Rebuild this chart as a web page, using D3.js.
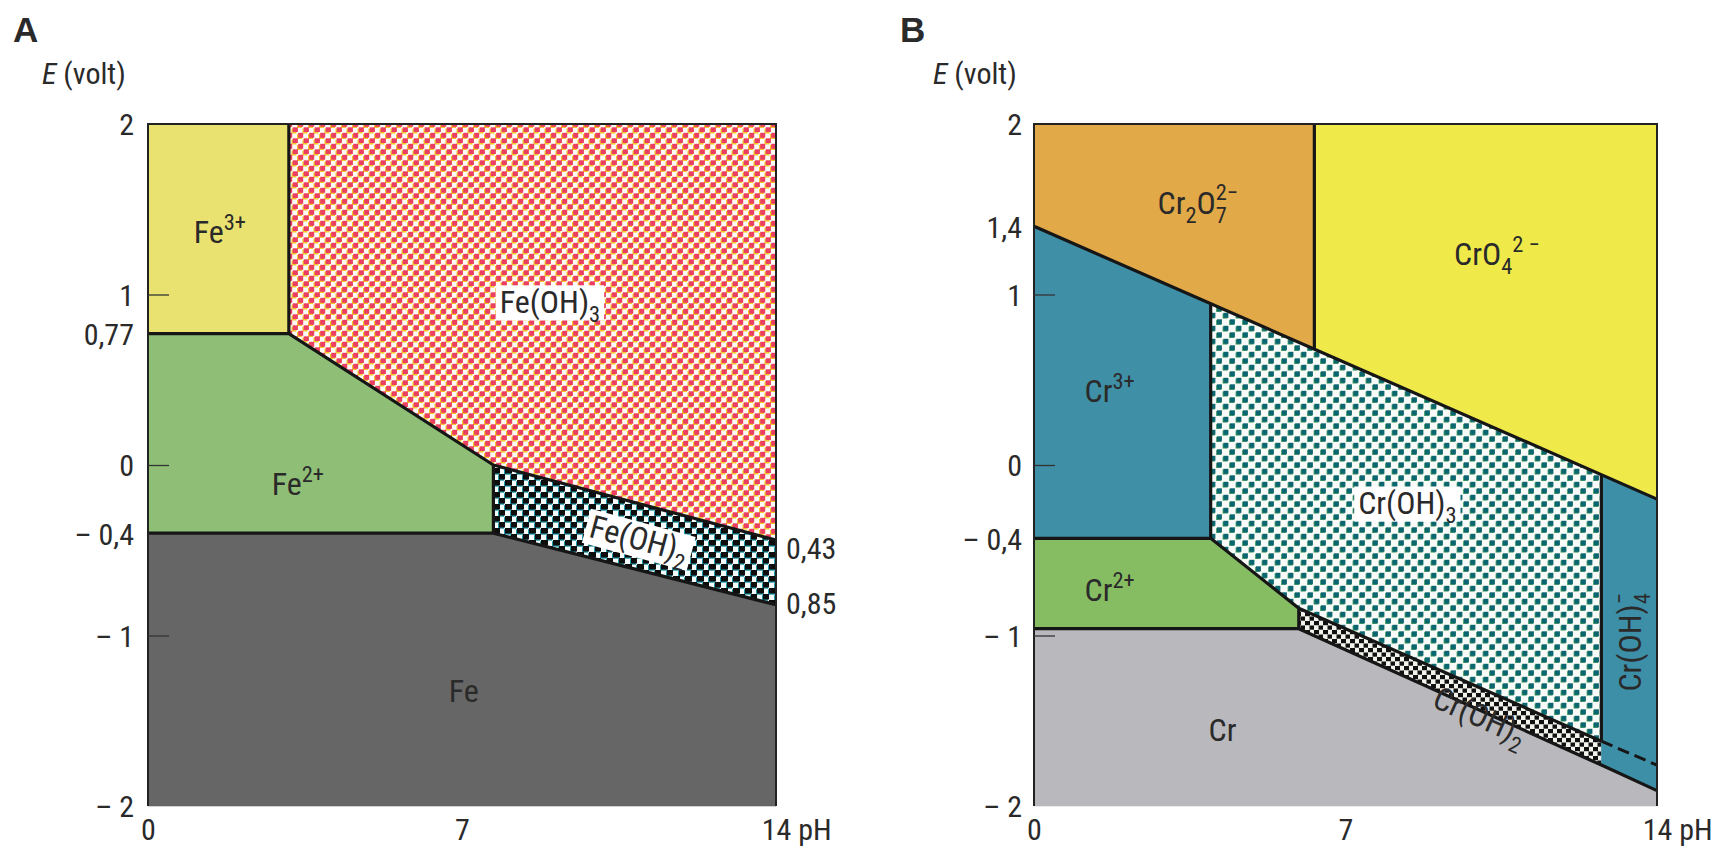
<!DOCTYPE html>
<html><head><meta charset="utf-8">
<script src="https://cdn.jsdelivr.net/npm/d3@7"></script>
<style>
html,body{margin:0;padding:0;background:#fff;}
svg text{font-family:"Liberation Sans Narrow","Arial Narrow","Roboto Condensed","DejaVu Sans Condensed",sans-serif;fill:#2a2a2a;}
</style></head><body>
<svg id="c" width="1726" height="857"></svg>
<script>
// ---------------- data ----------------
const pHTicks = [0, 7, 14];
const pHTickLabels = ["0", "7", "14"];
const innerTicks = [1, 0, -1];

const eTicksA = [2, 1, 0.77, 0, -0.4, -1, -2];
const eTickLabelsA = ["2", "1", "0,77", "0", "– 0,4", "– 1", "– 2"];
const eTicksB = [2, 1.4, 1, 0, -0.43, -1, -2];
const eTickLabelsB = ["2", "1,4", "1", "0", "– 0,4", "– 1", "– 2"];

// Panel A (Fe) regions, [pH, E]
const fe3Region   = [[0,2],[3.14,2],[3.14,0.77],[0,0.77]];
const feOH3Region = [[3.14,2],[14,2],[14,-0.44],[7.7,0],[3.14,0.77]];
const fe2Region   = [[0,0.77],[3.14,0.77],[7.7,0],[7.7,-0.4],[0,-0.4]];
const feOH2Region = [[7.7,0],[14,-0.44],[14,-0.82],[7.7,-0.4]];
const feRegion    = [[0,-0.4],[7.7,-0.4],[14,-0.82],[14,-2],[0,-2]];
const boundariesA = [
  [[3.14,2],[3.14,0.77]],
  [[0,0.77],[3.14,0.77],[7.7,0],[14,-0.44]],
  [[7.7,0],[7.7,-0.4]],
  [[0,-0.4],[7.7,-0.4],[14,-0.82]]
];
const sideValuesA = [-0.49, -0.81];
const sideLabelsA = ["0,43", "0,85"];

// Panel B (Cr) regions, [pH, E]
const cr2o7Region = [[0,2],[6.3,2],[6.3,0.68],[0,1.4]];
const cro4Region  = [[6.3,2],[14,2],[14,-0.2],[6.3,0.68]];
const cr3Region   = [[0,1.4],[3.97,0.95],[3.97,-0.43],[0,-0.43]];
const crOH3Region = [[3.97,0.95],[12.75,-0.06],[12.75,-1.62],[5.95,-0.84],[3.97,-0.43]];
const cr2Region   = [[0,-0.43],[3.97,-0.43],[5.95,-0.84],[5.95,-0.96],[0,-0.96]];
const crOH2Region = [[5.95,-0.84],[12.75,-1.62],[12.75,-1.76],[5.95,-0.96]];
const crOH4Region = [[12.75,-0.06],[14,-0.2],[14,-1.91],[12.75,-1.76]];
const crRegion    = [[0,-0.96],[5.95,-0.96],[12.75,-1.76],[14,-1.91],[14,-2],[0,-2]];
const boundariesB = [
  [[0,1.4],[14,-0.2]],
  [[6.3,2],[6.3,0.68]],
  [[3.97,0.95],[3.97,-0.43]],
  [[0,-0.43],[3.97,-0.43],[5.95,-0.84],[12.75,-1.62]],
  [[5.95,-0.84],[5.95,-0.96]],
  [[0,-0.96],[5.95,-0.96],[12.75,-1.76],[14,-1.91]],
  [[12.75,-0.06],[12.75,-1.62]]
];
const dashedB = [[12.75,-1.62],[14,-1.76]];

// label anchors [pH, E]
const labelsA = [
  {at:[1.6,1.37],  parts:[["Fe","n"],["3+","sup"]]},
  {at:[8.96,0.96], parts:[["Fe(OH)","n"],["3","sub"]], bg:true},
  {at:[3.34,-0.11],parts:[["Fe","n"],["2+","sup"]]},
  {at:[10.95,-0.43],parts:[["Fe(OH)","n"],["2","sub"]], bg:true, rot:15},
  {at:[7.04,-1.32],parts:[["Fe","n"]]}
];
const labelsB = [
  {at:[3.68,1.54], parts:[["Cr","n"],["2","sub"],["O","n"],[["7","2−"],"stack"]]},
  {at:[10.4,1.24], parts:[["CrO","n"],["4","sub"],["2 −","sup"]]},
  {at:[1.7,0.44],  parts:[["Cr","n"],["3+","sup"]]},
  {at:[8.39,-0.22],parts:[["Cr(OH)","n"],["3","sub"]], bg:true},
  {at:[1.7,-0.73], parts:[["Cr","n"],["2+","sup"]]},
  {at:[4.24,-1.55],parts:[["Cr","n"]]},
  {at:[10.03,-1.47],parts:[["Cr(OH)","n"],["2","sub"]], rot:24},
  {at:[13.39,-1.04],parts:[["Cr(OH)","n"],[["4","−"],"stack"]], rot:-90}
];

// ---------------- drawing ----------------
const svg = d3.select("#c");
const defs = svg.append("defs");
function pattern(id, w, h, bg, rects){
  const p = defs.append("pattern").attr("id", id).attr("patternUnits","userSpaceOnUse")
    .attr("width", w).attr("height", h);
  p.append("rect").attr("width", w).attr("height", h).attr("fill", bg);
  rects.forEach(r => p.append("rect").attr("x", r[0]).attr("y", r[1])
    .attr("width", r[2]).attr("height", r[3]).attr("fill", r[4]));
}
pattern("pFeOH3", 11, 11, "#fefcf8", [
  [0,2,5,5,"#f5c52a"],[5.5,7.5,5,3.5,"#f5c52a"],[5.5,0,5,1.5,"#f5c52a"],
  [1.2,0.8,5,5,"#ea3f60"],[6.7,6.3,4.3,4.7,"#ea3f60"],[0,6.3,0.9,4.7,"#ea3f60"]
]);
pattern("pFeOH2", 12, 12, "#f4fbfa", [
  [0,1.2,7,5.5,"#1c9aab"],[6,7.2,6,4.8,"#1c9aab"],[6,0,6,0.7,"#1c9aab"],
  [1,0,7,5.5,"#0d0d0d"],[7,6,5,5.5,"#0d0d0d"],[0,6,1,5.5,"#0d0d0d"]
]);
pattern("pCrOH3", 13, 13, "#f8fbf7", [
  [0.6,1.6,5,5,"#4aa064"],[7.1,8.1,5,4.9,"#4aa064"],
  [1.4,0.8,5,5,"#0c6670"],[7.9,7.3,5,5,"#0c6670"]
]);
pattern("pCrOH2", 9, 9, "#f3f3ee", [
  [0,0,5,4.2,"#111"],[4.5,4.5,4.5,4.2,"#111"]
]);

const fontMain = 32;
const fontTick = 30;
const panels = [
  {left:148, right:776, top:124, bottom:806, letter:"A", letterX:13, eX:42,
   ticks:eTicksA, tickLabels:eTickLabelsA,
   regions:[[fe3Region,"#e9e270"],[feOH3Region,"url(#pFeOH3)"],[fe2Region,"#8fbf77"],
            [feOH2Region,"url(#pFeOH2)"],[feRegion,"#666666"]],
   boundaries:boundariesA, labels:labelsA, tickPad:14},
  {left:1034, right:1657, top:124, bottom:806, letter:"B", letterX:900, eX:933,
   ticks:eTicksB, tickLabels:eTickLabelsB,
   regions:[[cr2o7Region,"#e2a948"],[cro4Region,"#efea4a"],[cr3Region,"#3f8fa6"],
            [crOH3Region,"url(#pCrOH3)"],[cr2Region,"#86bd63"],[crOH2Region,"url(#pCrOH2)"],
            [crOH4Region,"#3d8fa8"],[crRegion,"#b9b9bd"]],
   boundaries:boundariesB, labels:labelsB, tickPad:12}
];

function addLabel(g, px, py, parts, size, rot, bg){
  const grp = g.append("g").attr("transform", `translate(${px},${py}) rotate(${rot||0})`);
  const rect = bg ? grp.append("rect").attr("fill", "#fff") : null;
  const t = grp.append("text").attr("font-size", size).attr("y", size*0.36);
  let shift = 0;
  const small = size*0.7;
  parts.forEach(([txt, type]) => {
    if (type === "n") { t.append("tspan").attr("dy", -shift).text(txt); shift = 0; }
    else if (type === "sub") { const s = size*0.28; t.append("tspan").attr("font-size", small).attr("dy", s-shift).text(txt); shift = s; }
    else if (type === "sup") { const s = -size*0.4; t.append("tspan").attr("font-size", small).attr("dy", s-shift).text(txt); shift = s; }
    else if (type === "stack") {
      const s1 = size*0.28;
      const a = t.append("tspan").attr("font-size", small).attr("dy", s1-shift).text(txt[0]);
      const w = a.node().getComputedTextLength();
      const s2 = -size*0.45;
      t.append("tspan").attr("font-size", small).attr("dx", -w).attr("dy", s2-s1).text(txt[1]);
      shift = s2;
    }
  });
  const bb = t.node().getBBox();
  const dx = -(bb.x + bb.width/2);
  t.attr("transform", `translate(${dx},0)`);
  if (rect) {
    rect.attr("x", bb.x + dx - 4).attr("y", -size*0.5).attr("width", bb.width + 8).attr("height", size*1.1);
  }
}

panels.forEach(P => {
  const x = d3.scaleLinear().domain([0,14]).range([P.left, P.right]);
  const y = d3.scaleLinear().domain([-2,2]).range([P.bottom, P.top]);
  const line = d3.line().x(d => x(d[0])).y(d => y(d[1]));
  const g = svg.append("g");

  g.selectAll("path.region").data(P.regions).join("path")
    .attr("class","region").attr("d", d => line(d[0]) + "Z")
    .attr("fill", d => d[1]).attr("stroke", d => d[1].startsWith("url") ? "none" : d[1]).attr("stroke-width", 0.6);

  g.selectAll("path.bound").data(P.boundaries).join("path")
    .attr("class","bound").attr("d", line).attr("fill","none")
    .attr("stroke","#161616").attr("stroke-width",3.2).attr("stroke-linejoin","round");

  if (P.letter === "B") {
    g.append("path").attr("d", line(dashedB)).attr("fill","none")
      .attr("stroke","#161616").attr("stroke-width",3).attr("stroke-dasharray","12,6");
  }

  // frame (top, left, right)
  g.append("path").attr("d", `M${P.left},${P.bottom}V${P.top}H${P.right}V${P.bottom}`)
    .attr("fill","none").attr("stroke","#222").attr("stroke-width",2);

  // y axis labels
  const ay = g.append("g").attr("transform", `translate(${P.left},0)`)
    .call(d3.axisLeft(y).tickValues(P.ticks).tickSize(0).tickPadding(P.tickPad)
      .tickFormat((d,i) => P.tickLabels[i]));
  ay.select(".domain").remove();
  ay.attr("font-family", null);
  ay.selectAll("text").attr("font-size", fontTick).attr("fill","#2a2a2a").attr("dy","0.36em")
    .attr("xml:space","preserve");

  // inner tick marks
  const ai = g.append("g").attr("transform", `translate(${P.left},0)`)
    .call(d3.axisRight(y).tickValues(innerTicks).tickSize(21).tickFormat(""));
  ai.select(".domain").remove();
  ai.selectAll("line").attr("stroke","#333").attr("stroke-width",1.3);

  // x axis labels
  const ax = g.append("g").attr("transform", `translate(0,${P.bottom})`)
    .call(d3.axisBottom(x).tickValues(pHTicks).tickSize(0).tickPadding(13)
      .tickFormat((d,i) => pHTickLabels[i]));
  ax.select(".domain").remove();
  ax.attr("font-family", null);
  ax.selectAll("text").attr("font-size", fontTick).attr("fill","#2a2a2a");
  ax.selectAll(".tick").filter(d => d === 14).select("text").each(function(){
    const el = d3.select(this);
    const w = this.getComputedTextLength();
    el.attr("text-anchor","start").attr("x", -w/2);
    el.append("tspan").text(" pH");
  });

  // panel letter and axis title
  svg.append("text").attr("x", P.letterX).attr("y", 42).attr("font-size", 35)
    .attr("font-weight","bold").style("font-family","'Liberation Sans',Arial,sans-serif")
    .attr("fill","#111").text(P.letter);
  const et = svg.append("text").attr("x", P.eX).attr("y", 84).attr("font-size", 30);
  et.append("tspan").attr("font-style","italic").text("E");
  et.append("tspan").text(" (volt)");

  // region labels
  P.labels.forEach(L => addLabel(g, x(L.at[0]), y(L.at[1]), L.parts, fontMain, L.rot, L.bg));

  if (P.letter === "A") {
    g.selectAll("text.side").data(sideValuesA).join("text").attr("class","side")
      .attr("x", P.right + 10).attr("y", d => y(d)).attr("dy","0.36em")
      .attr("font-size", fontTick).text((d,i) => sideLabelsA[i]);
  }
});
</script>
</body></html>
